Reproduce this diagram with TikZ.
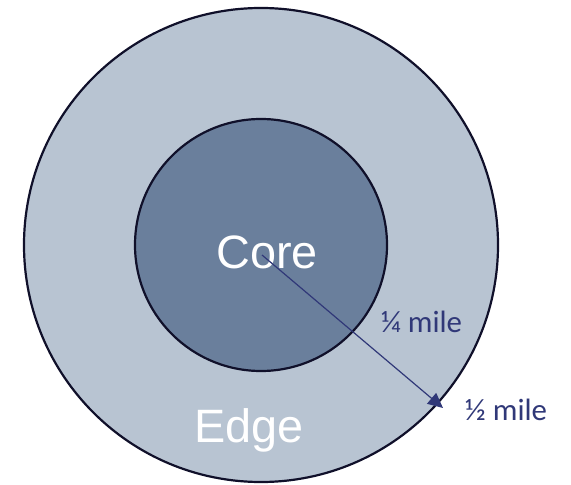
\documentclass[tikz,border=0pt]{standalone}
\usepackage{fontspec}
\setmainfont{Liberation Sans}
\newfontfamily\labelfont{Carlito}
\usetikzlibrary{arrows.meta}
\definecolor{outerfill}{HTML}{B8C4D2}
\definecolor{innerfill}{HTML}{6A7F9C}
\definecolor{ringline}{HTML}{10102A}
\definecolor{arrowcol}{HTML}{303878}
\tikzset{
  ring/.style={circle, draw=ringline, line width=2.2bp, inner sep=0pt},
  bigword/.style={text=white, font=\fontsize{47}{47}\selectfont, inner sep=0pt, anchor=base},
  milelabel/.style={text=arrowcol, font=\labelfont\fontsize{31}{31}\selectfont, inner sep=0pt, anchor=base west},
  radius arrow/.style={draw=arrowcol, line width=1.2bp, -{Triangle[length=15bp,width=14bp]}}
}
\begin{document}
\begin{tikzpicture}[x=1bp,y=-1bp]
\useasboundingbox (0,0) rectangle (571,485);
\node[ring, fill=outerfill, minimum size=474bp] (edge) at (261,245) {};
\node[ring, fill=innerfill, minimum size=252bp] (core) at (261,245) {};
\node[bigword] (coretext) at (267,268) {Core};
\node[bigword] (edgetext) at (249,442) {Edge};
\coordinate (start) at (262,255);
\coordinate (tip) at (443,408);
\draw[radius arrow] (start) -- (tip);
\node[milelabel] (quarter) at (381,332) {¼ mile};
\node[milelabel] (half) at (465,420) {½ mile};
\end{tikzpicture}
\end{document}
